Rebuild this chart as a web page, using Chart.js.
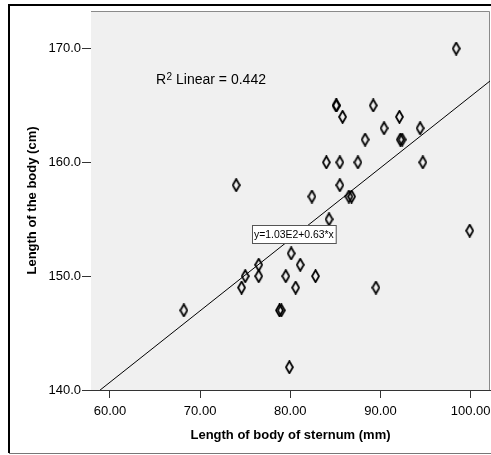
<!DOCTYPE html>
<html><head><meta charset="utf-8">
<script src="https://cdn.jsdelivr.net/npm/chart.js@4/dist/chart.umd.min.js"></script>
<style>html,body{margin:0;padding:0;background:#fff;}canvas{display:block}</style>
</head><body>
<canvas id="c" width="491" height="455"></canvas>
<script>
// Length of body of sternum (mm)
const sternumLength = [68.2, 74.0, 74.6, 75.0, 76.5, 76.5, 78.8, 79.0, 79.5, 79.9, 80.1, 80.6,
  81.1, 82.4, 82.8, 84.0, 84.3, 85.1, 85.1, 85.5, 85.5, 85.8, 86.5, 86.8, 87.5, 88.3, 89.2,
  89.5, 90.4, 92.1, 92.2, 92.4, 94.4, 94.7, 98.4, 99.9];
// Length of the body (cm)
const bodyLength = [147, 158, 149, 150, 151, 150, 147, 147, 150, 142, 152, 149,
  151, 157, 150, 160, 155, 165, 165, 160, 158, 164, 157, 157, 160, 162, 165,
  149, 163, 164, 162, 162, 163, 160, 170, 154];
const xTicks = [60, 70, 80, 90, 100];
const yTicks = [140, 150, 160, 170];
const xMin = 57.9, xMax = 102.15, yMin = 140, yMax = 173.3;
const fitIntercept = 103.0, fitSlope = 0.628;
const rSquaredText = 'Linear = 0.442';
const equationText = 'y=1.03E2+0.63*x';
const xTitle = 'Length of body of sternum (mm)';
const yTitle = 'Length of the body (cm)';

const FONT = 'Arial, "Liberation Sans", sans-serif';

// hollow elongated diamond marker
const marker = document.createElement('canvas');
marker.width = 9; marker.height = 14;
(function(){
  const g = marker.getContext('2d');
  g.strokeStyle = '#000'; g.lineWidth = 1.8;
  g.beginPath();
  g.moveTo(4.5, 1); g.lineTo(8, 7); g.lineTo(4.5, 13); g.lineTo(1, 7); g.closePath();
  g.stroke();
})();

const points = sternumLength.map((v, i) => ({x: v, y: bodyLength[i]}));
const fitLine = [xMin, xMax].map(x => ({x: x, y: fitIntercept + fitSlope * x}));

const decor = {
  id: 'decor',
  beforeDatasetsDraw(chart) {
    const {ctx, chartArea: a} = chart;
    ctx.save();
    ctx.fillStyle = '#f0f0f0';
    ctx.fillRect(a.left, a.top, a.right - a.left, a.bottom - a.top);
    ctx.strokeStyle = '#8a8a8a'; ctx.lineWidth = 1;
    ctx.beginPath();
    ctx.moveTo(a.left, a.top + 0.5); ctx.lineTo(a.right - 0.5, a.top + 0.5); ctx.lineTo(a.right - 0.5, a.bottom);
    ctx.stroke();
    ctx.restore();
  },
  afterDatasetsDraw(chart) {
    const {ctx, chartArea: a} = chart;
    ctx.save();
    // R squared annotation
    ctx.fillStyle = '#000';
    ctx.textBaseline = 'alphabetic';
    ctx.font = '14px ' + FONT;
    let x = a.left + 65, y = a.top + 73;
    ctx.fillText('R', x, y);
    x += ctx.measureText('R').width + 0.5;
    ctx.font = '10px ' + FONT;
    ctx.fillText('2', x, y - 4);
    x += ctx.measureText('2').width;
    ctx.font = '14px ' + FONT;
    ctx.fillText(' ' + rSquaredText, x, y);
    // equation box
    ctx.font = '10.4px ' + FONT;
    const w = ctx.measureText(equationText).width + 4;
    const bx = a.left + 161, by = a.top + 214;
    ctx.fillStyle = '#fff';
    ctx.fillRect(bx, by, w, 18);
    ctx.strokeStyle = '#555'; ctx.lineWidth = 1;
    ctx.strokeRect(bx + 0.5, by + 0.5, w, 18);
    ctx.fillStyle = '#000';
    ctx.textBaseline = 'middle';
    ctx.fillText(equationText, bx + 2, by + 10);
    ctx.restore();
  },
  afterDraw(chart) {
    const {ctx} = chart;
    ctx.save();
    ctx.strokeStyle = '#000'; ctx.lineWidth = 2;
    ctx.beginPath();
    ctx.moveTo(495, 5); ctx.lineTo(9, 5); ctx.lineTo(9, 453);
    ctx.stroke();
    ctx.strokeStyle = '#777'; ctx.lineWidth = 1;
    ctx.beginPath();
    ctx.moveTo(9, 453.5); ctx.lineTo(495, 453.5);
    ctx.stroke();
    ctx.restore();
  }
};

new Chart(document.getElementById('c'), {
  type: 'scatter',
  data: {
    datasets: [
      {data: fitLine, type: 'line', showLine: true, borderColor: '#000', borderWidth: 1,
       pointRadius: 0, order: 2},
      {data: points, pointStyle: marker, pointRadius: 5, order: 1}
    ]
  },
  options: {
    responsive: false,
    animation: false,
    devicePixelRatio: 1,
    layout: {autoPadding: false, padding: {top: 11, right: 1, left: 0, bottom: 0}},
    plugins: {legend: {display: false}, tooltip: {enabled: false}},
    scales: {
      x: {
        type: 'linear', min: xMin, max: xMax,
        afterBuildTicks: s => { s.ticks = xTicks.map(v => ({value: v})); },
        afterFit: s => { s.height = 65; s.paddingLeft = 0; s.paddingRight = 0; },
        ticks: {callback: v => Number(v).toFixed(2), color: '#000', font: {family: FONT, size: 13}, padding: 6, maxRotation: 0},
        grid: {drawOnChartArea: false, drawTicks: true, tickLength: 8, color: '#333'},
        border: {color: '#333'},
        title: {display: true, text: xTitle, color: '#000', font: {family: FONT, size: 13, weight: 'bold'}, padding: {top: 0, bottom: 12}}
      },
      y: {
        type: 'linear', min: yMin, max: yMax,
        afterBuildTicks: s => { s.ticks = yTicks.map(v => ({value: v})); },
        afterFit: s => { s.width = 91; s.paddingTop = 0; s.paddingBottom = 0; },
        ticks: {callback: v => Number(v).toFixed(1), color: '#000', font: {family: FONT, size: 13}, padding: 1},
        grid: {drawOnChartArea: false, drawTicks: true, tickLength: 9, color: '#333'},
        border: {color: '#333'},
        title: {display: true, text: yTitle, color: '#000', font: {family: FONT, size: 13, weight: 'bold'}, padding: {top: 25, bottom: 0}}
      }
    }
  },
  plugins: [decor]
});
</script>
</body></html>
